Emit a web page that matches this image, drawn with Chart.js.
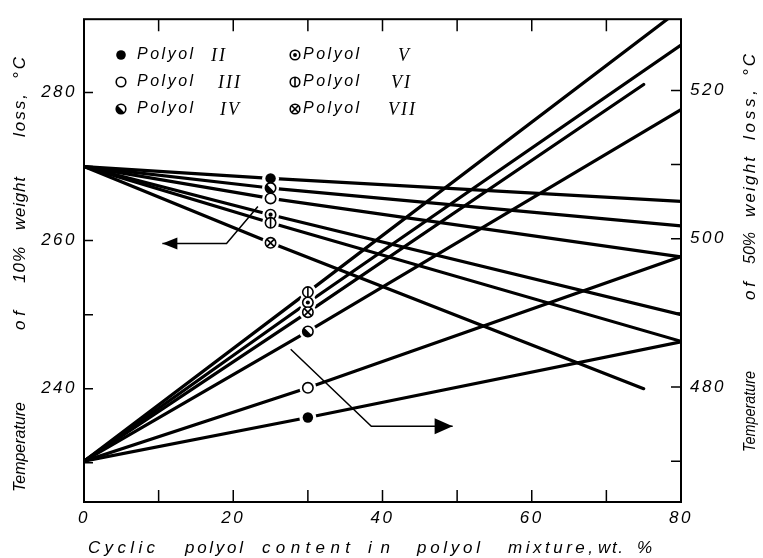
<!DOCTYPE html>
<html>
<head>
<meta charset="utf-8">
<title>Decomposition temperatures of polyol mixtures</title>
<script src="https://cdn.jsdelivr.net/npm/chart.js@4/dist/chart.umd.min.js"></script>
<style>
  html, body { margin: 0; padding: 0; background: #fff; }
  #wrap { width: 763px; height: 558px; position: relative; }
</style>
</head>
<body>
<div id="wrap"><canvas id="chart"></canvas></div>
<script>
// Polyols and the symbol used for each one
const polyols = ['II', 'III', 'IV', 'V', 'VI', 'VII'];
const markerKinds = ['filled', 'open', 'half', 'dot', 'vbar', 'cross'];

// Temperature of 10% weight loss (left axis, degC)
const loss10Start = 270;
const loss10MarkX = 25;
const loss10Mark = [268.4, 265.7, 267.1, 263.5, 262.4, 259.7];
const loss10EndX = [80, 80, 80, 80, 80, 75];
const loss10End = [265.3, 257.8, 262.0, 250.0, 246.4, 240.0];

// Temperature of 50% weight loss (right axis, degC)
const loss50Start = 470;
const loss50MarkX = 30;
const loss50Mark = [475.9, 479.9, 487.5, 491.4, 492.8, 490.1];
const loss50EndX = [80, 80, 80, 80, 80, 75];
const loss50End = [486.1, 497.6, 517.4, 526.1, 531.0, 520.8];

// Axes
const xRange = [0, 80];
const leftRange = [224.7, 289.9];
const rightRange = [464.5, 529.6];
const xTickMarks = [10, 20, 30, 40, 50, 60, 70];
const xTickLabels = [0, 20, 40, 60, 80];
const leftTickMarks = [230, 240, 250, 260, 270, 280];
const leftTickLabels = [240, 260, 280];
const rightTickMarks = [470, 480, 490, 500, 510, 520];
const rightTickLabels = [480, 500, 520];

// Leader arrows pointing each bundle to its axis
const arrow10 = [[23.3, 264.6], [19.1, 259.6], [10.5, 259.6]];   // left-axis units
const arrow50 = [[27.7, 485.1], [38.5, 474.7], [49.4, 474.7]];   // right-axis units

// Axis titles, word by word
const xTitleWords = ['Cyclic', 'polyol', 'content', 'in', 'polyol', 'mixture,', 'wt.', '%'];
const leftTitleWords = ['Temperature', 'of', '10%', 'weight', 'loss,', '°C'];
const rightTitleWords = ['Temperature', 'of', '50%', 'weight', 'loss,', '°C'];

const SANS = '"Liberation Sans", Arial, sans-serif';
const SERIF = '"Liberation Serif", "Times New Roman", serif';

function lineData(x0, y0, xm, ym, xe, ye) {
  return [{ x: x0, y: y0 }, { x: xm, y: ym }, { x: xe, y: ye }];
}

const datasets = [];
polyols.forEach((p, i) => {
  datasets.push({
    label: 'Polyol ' + p + ' (10%)',
    yAxisID: 'y',
    marker: markerKinds[i],
    data: lineData(0, loss10Start, loss10MarkX, loss10Mark[i], loss10EndX[i], loss10End[i])
  });
  datasets.push({
    label: 'Polyol ' + p + ' (50%)',
    yAxisID: 'y2',
    marker: markerKinds[i],
    data: lineData(0, loss50Start, loss50MarkX, loss50Mark[i], loss50EndX[i], loss50End[i])
  });
});
datasets.forEach(d => Object.assign(d, {
  showLine: true, borderColor: '#000', backgroundColor: '#000', borderWidth: 3.2,
  pointRadius: 0, pointHoverRadius: 0, tension: 0, fill: false,
  borderCapStyle: 'round', borderJoinStyle: 'round'
}));

function drawMarker(ctx, kind, x, y, r) {
  ctx.save();
  ctx.lineWidth = 1.6;
  ctx.strokeStyle = '#000';
  ctx.fillStyle = '#000';
  ctx.beginPath();
  ctx.arc(x, y, r, 0, Math.PI * 2);
  if (kind === 'filled') {
    ctx.fill();
  } else {
    ctx.fillStyle = '#fff';
    ctx.fill();
    ctx.stroke();
    ctx.fillStyle = '#000';
    if (kind === 'half') {
      ctx.beginPath();
      ctx.arc(x, y, r, Math.PI / 4, Math.PI * 5 / 4);
      ctx.closePath();
      ctx.fill();
    } else if (kind === 'dot') {
      ctx.beginPath();
      ctx.arc(x, y, r * 0.4, 0, Math.PI * 2);
      ctx.fill();
    } else if (kind === 'vbar') {
      ctx.beginPath();
      ctx.moveTo(x, y - r);
      ctx.lineTo(x, y + r);
      ctx.stroke();
    } else if (kind === 'cross') {
      const d = r * 0.72;
      ctx.beginPath();
      ctx.moveTo(x - d, y - d); ctx.lineTo(x + d, y + d);
      ctx.moveTo(x + d, y - d); ctx.lineTo(x - d, y + d);
      ctx.stroke();
    }
  }
  ctx.restore();
}

// One word stretched (or narrowed) between two positions along its baseline
function fitWord(ctx, text, from, to, across, vertical, font) {
  ctx.save();
  ctx.font = font;
  ctx.letterSpacing = '0px';
  const w = ctx.measureText(text).width;
  const span = Math.abs(to - from);
  let sp = text.length > 1 ? (span - w) / (text.length - 1) : 0;
  let sx = 1;
  if (sp < 0) { sp = 0; sx = span / w; }
  ctx.letterSpacing = sp + 'px';
  ctx.fillStyle = '#000';
  ctx.textAlign = 'left';
  ctx.textBaseline = 'middle';
  if (vertical) {
    ctx.translate(across, from);
    ctx.rotate(-Math.PI / 2);
  } else {
    ctx.translate(from, across);
  }
  ctx.scale(sx, 1);
  ctx.fillText(text, 0, 0);
  ctx.restore();
}

function drawArrow(ctx, pts, headLen, headHalf) {
  ctx.save();
  ctx.strokeStyle = '#000';
  ctx.fillStyle = '#000';
  ctx.lineWidth = 1.5;
  ctx.beginPath();
  pts.forEach((p, i) => i ? ctx.lineTo(p[0], p[1]) : ctx.moveTo(p[0], p[1]));
  ctx.stroke();
  const [tx, ty] = pts[pts.length - 1];
  const [px, py] = pts[pts.length - 2];
  const ang = Math.atan2(ty - py, tx - px);
  ctx.translate(tx, ty);
  ctx.rotate(ang);
  ctx.beginPath();
  ctx.moveTo(0, 0);
  ctx.lineTo(-headLen, -headHalf);
  ctx.lineTo(-headLen, headHalf);
  ctx.closePath();
  ctx.fill();
  ctx.restore();
}

// word extents (px) along each title
const xTitleSpans = [[88, 155], [185, 243], [262, 350], [368, 390], [417, 480], [508, 593], [598, 623], [637, 663]];
const leftTitleSpans = [[492, 402], [330, 311], [283, 247], [230, 177], [137, 94], [79, 57]];
const rightTitleSpans = [[452, 371], [300, 282], [264, 232], [217, 157], [140, 90], [76, 54]];
// legend layout
const legendCols = [{ mx: 121, tx: 137 }, { mx: 295, tx: 303 }];
const legendRows = [55, 82, 109];
const legendNumeralX = [211, 218, 220, 398, 391, 388];

const decorations = {
  id: 'decorations',
  beforeDraw(chart) {
    chart.ctx.letterSpacing = '2.5px';
  },
  afterDatasetsDraw(chart) {
    const ctx = chart.ctx;
    const marks = [];
    chart.data.datasets.forEach((ds, i) => {
      const el = chart.getDatasetMeta(i).data[1];
      marks.push({ kind: ds.marker, x: el.x, y: el.y });
    });
    // white gap around every symbol, then the symbols
    ctx.save();
    ctx.fillStyle = '#fff';
    marks.forEach(m => { ctx.beginPath(); ctx.arc(m.x, m.y, 8.5, 0, Math.PI * 2); ctx.fill(); });
    ctx.restore();
    marks.forEach(m => drawMarker(ctx, m.kind, m.x, m.y, 5.2));
  },
  afterDraw(chart) {
    const ctx = chart.ctx;
    const a = chart.chartArea;
    const xs = chart.scales.x, yl = chart.scales.y, yr = chart.scales.y2;

    ctx.save();
    ctx.strokeStyle = '#000';
    ctx.lineWidth = 2;
    ctx.strokeRect(a.left, a.top, a.right - a.left, a.bottom - a.top);
    ctx.lineWidth = 1.5;
    ctx.beginPath();
    xTickMarks.forEach(v => {
      const p = xs.getPixelForValue(v);
      ctx.moveTo(p, a.bottom); ctx.lineTo(p, a.bottom - 12);
      ctx.moveTo(p, a.top); ctx.lineTo(p, a.top + 12);
    });
    leftTickMarks.forEach(v => {
      const p = yl.getPixelForValue(v);
      ctx.moveTo(a.left, p); ctx.lineTo(a.left + 9, p);
    });
    rightTickMarks.forEach(v => {
      const p = yr.getPixelForValue(v);
      ctx.moveTo(a.right, p); ctx.lineTo(a.right - 10, p);
    });
    ctx.stroke();
    ctx.restore();

    // leader arrows
    drawArrow(ctx, arrow10.map(p => [xs.getPixelForValue(p[0]), yl.getPixelForValue(p[1])]), 15, 6);
    drawArrow(ctx, arrow50.map(p => [xs.getPixelForValue(p[0]), yr.getPixelForValue(p[1])]), 18, 8);

    // legend inside the plot, two columns of three
    polyols.forEach((p, i) => {
      const c = legendCols[Math.floor(i / 3)];
      const y = legendRows[i % 3];
      drawMarker(ctx, markerKinds[i], c.mx, y, 4.8);
      ctx.save();
      ctx.fillStyle = '#000';
      ctx.textBaseline = 'middle';
      ctx.textAlign = 'left';
      ctx.font = 'italic 16px ' + SANS;
      ctx.letterSpacing = '2.5px';
      ctx.fillText('Polyol', c.tx, y);
      ctx.font = 'italic 18px ' + SERIF;
      ctx.letterSpacing = '2px';
      ctx.fillText(p, legendNumeralX[i], y + 1);
      ctx.restore();
    });

    // axis titles
    const tf = 'italic 17px ' + SANS;
    xTitleWords.forEach((w, i) => fitWord(ctx, w, xTitleSpans[i][0], xTitleSpans[i][1], 548, false, tf));
    leftTitleWords.forEach((w, i) => fitWord(ctx, w, leftTitleSpans[i][0], leftTitleSpans[i][1], 20, true, tf));
    rightTitleWords.forEach((w, i) => fitWord(ctx, w, rightTitleSpans[i][0], rightTitleSpans[i][1], 750, true, tf));
  }
};

function fixedTicks(values) {
  return scale => { scale.ticks = values.map(v => ({ value: v })); };
}
const tickFont = { family: SANS, size: 17, style: 'italic' };

new Chart(document.getElementById('chart'), {
  type: 'scatter',
  data: { datasets },
  plugins: [decorations],
  options: {
    responsive: true,
    maintainAspectRatio: false,
    animation: false,
    devicePixelRatio: 1,
    layout: { padding: { top: 13, left: 0, right: 0, bottom: 0 } },
    plugins: { legend: { display: false }, tooltip: { enabled: false } },
    events: [],
    scales: {
      x: {
        type: 'linear', position: 'bottom', min: xRange[0], max: xRange[1],
        afterBuildTicks: fixedTicks(xTickLabels),
        afterFit: s => { s.height = 56; },
        grid: { display: false, drawTicks: false }, border: { display: false },
        ticks: { color: '#000', font: tickFont, padding: 6, maxRotation: 0, autoSkip: false }
      },
      y: {
        type: 'linear', position: 'left', min: leftRange[0], max: leftRange[1],
        afterBuildTicks: fixedTicks(leftTickLabels),
        afterFit: s => { s.width = 84; },
        grid: { display: false, drawTicks: false }, border: { display: false },
        ticks: { color: '#000', font: tickFont, padding: 7, autoSkip: false }
      },
      y2: {
        type: 'linear', position: 'right', min: rightRange[0], max: rightRange[1],
        afterBuildTicks: fixedTicks(rightTickLabels),
        afterFit: s => { s.width = 82; },
        grid: { display: false, drawTicks: false }, border: { display: false },
        ticks: { color: '#000', font: tickFont, padding: 9, autoSkip: false }
      }
    }
  }
});
</script>
</body>
</html>
